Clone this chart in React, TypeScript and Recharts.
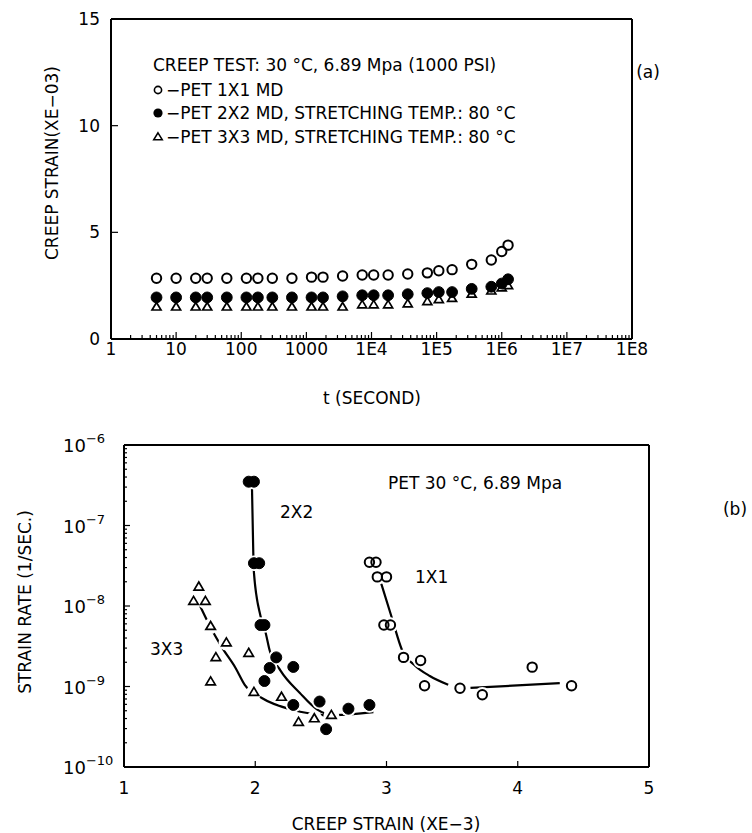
import React from 'react';
import { ScatterChart, Scatter, XAxis, YAxis, ReferenceLine } from 'recharts';

const FONT = '"DejaVu Sans", sans-serif';
const INK = '#000';
const FS = 17;

// ---------- Panel (a): creep strain vs. time ----------
const CREEP_TIME_S = [
  5, 10, 20, 30, 60, 120, 180, 300, 600, 1200, 1800, 3600, 7200, 10800, 18000,
  36000, 72000, 108000, 172800, 345600, 691200, 1000000, 1250000,
];
const CREEP_1X1 = [
  2.85, 2.85, 2.85, 2.85, 2.85, 2.85, 2.85, 2.85, 2.85, 2.9, 2.9, 2.95, 3.0, 3.0, 3.0,
  3.05, 3.1, 3.2, 3.25, 3.5, 3.7, 4.1, 4.4,
];
const CREEP_2X2 = [
  1.95, 1.95, 1.95, 1.95, 1.95, 1.95, 1.95, 1.95, 1.95, 1.95, 1.95, 2.0, 2.05, 2.05, 2.05,
  2.1, 2.15, 2.2, 2.2, 2.35, 2.45, 2.6, 2.8,
];
const CREEP_3X3 = [
  1.5, 1.5, 1.5, 1.5, 1.5, 1.5, 1.5, 1.5, 1.5, 1.5, 1.5, 1.5, 1.6, 1.6, 1.6,
  1.65, 1.75, 1.85, 1.9, 2.1, 2.25, 2.4, 2.5,
];

const TIME_TICKS = [1, 10, 100, 1000, 1e4, 1e5, 1e6, 1e7, 1e8];
const TIME_TICK_LABELS = ['1', '10', '100', '1000', '1E4', '1E5', '1E6', '1E7', '1E8'];
const CREEP_TICKS = [0, 5, 10, 15];

// ---------- Panel (b): strain rate vs. creep strain ----------
const RS_STRAIN_1X1 = [2.87, 2.92, 2.93, 3.0, 2.98, 3.03, 3.13, 3.26, 3.29, 3.56, 3.73, 4.11, 4.41];
const RS_RATE_1X1 = [3.5e-8, 3.5e-8, 2.3e-8, 2.3e-8, 5.8e-9, 5.8e-9, 2.3e-9, 2.1e-9, 1.02e-9, 9.5e-10, 7.9e-10, 1.74e-9, 1.02e-9];

const RS_STRAIN_2X2 = [1.95, 1.99, 1.99, 2.03, 2.04, 2.07, 2.16, 2.11, 2.29, 2.07, 2.29, 2.49, 2.71, 2.87, 2.54];
const RS_RATE_2X2 = [3.5e-7, 3.5e-7, 3.4e-8, 3.4e-8, 5.8e-9, 5.8e-9, 2.3e-9, 1.7e-9, 1.75e-9, 1.17e-9, 5.9e-10, 6.5e-10, 5.3e-10, 5.9e-10, 2.95e-10];

const RS_STRAIN_3X3 = [1.57, 1.53, 1.62, 1.66, 1.78, 1.7, 1.95, 1.66, 1.99, 2.2, 2.33, 2.45, 2.58];
const RS_RATE_3X3 = [1.73e-8, 1.15e-8, 1.15e-8, 5.6e-9, 3.5e-9, 2.3e-9, 2.6e-9, 1.15e-9, 8.5e-10, 7.4e-10, 3.6e-10, 4.0e-10, 4.4e-10];

// hand-drawn trend curves
const FIT_1X1_STRAIN = [2.96, 3.04, 3.12, 3.22, 3.33, 3.47];
const FIT_1X1_RATE = [1.9e-8, 7.2e-9, 2.8e-9, 1.8e-9, 1.35e-9, 1.05e-9];
const FIT_1X1_TAIL_STRAIN = [3.64, 4.32];
const FIT_1X1_TAIL_RATE = [9.6e-10, 1.1e-9];

const FIT_2X2_STRAIN = [1.975, 1.985, 1.99, 2.04, 2.08, 2.11, 2.19, 2.34, 2.47, 2.6, 2.9];
const FIT_2X2_RATE = [3.0e-7, 4.6e-8, 2.6e-8, 7.5e-9, 4.6e-9, 2.8e-9, 1.6e-9, 8.3e-10, 5.2e-10, 4.4e-10, 4.8e-10];

const FIT_3X3_STRAIN = [1.58, 1.66, 1.75, 1.85, 1.92, 2.05, 2.29, 2.57];
const FIT_3X3_RATE = [1.0e-8, 5.4e-9, 3.0e-9, 1.7e-9, 1.05e-9, 7.2e-10, 5.1e-10, 4.3e-10];

const STRAIN_B_TICKS = [1, 2, 3, 4, 5];
const RATE_TICKS = [1e-10, 1e-9, 1e-8, 1e-7, 1e-6];
const RATE_TICK_EXP = ['\u221210', '\u22129', '\u22128', '\u22127', '\u22126'];

// ---------- helpers ----------
const pts = (xs: number[], ys: number[]) => xs.map((x, i) => ({ x, y: ys[i] }));

const minorLogTicks = (majors: number[]) => {
  const out: number[] = [];
  for (let i = 0; i < majors.length - 1; i++) {
    for (let m = 2; m <= 9; m++) out.push(majors[i] * m);
  }
  return out;
};

const OpenCircle = (r: number) => (p: any) => (
  <circle cx={p.cx} cy={p.cy} r={r} fill="none" stroke={INK} strokeWidth={2} />
);
const FilledCircle = (r: number) => (p: any) => (
  <circle cx={p.cx} cy={p.cy} r={r} fill={INK} stroke={INK} strokeWidth={1} />
);
const OpenTriangle = (w: number, h: number) => (p: any) => (
  <path
    d={`M${p.cx},${p.cy - h * 0.6} L${p.cx + w / 2},${p.cy + h * 0.4} L${p.cx - w / 2},${p.cy + h * 0.4} Z`}
    fill="none"
    stroke={INK}
    strokeWidth={1.7}
    strokeLinejoin="miter"
  />
);
const Halo = (r: number) => (p: any) => <circle cx={p.cx} cy={p.cy} r={r} fill="#fff" />;
const NoDot = () => <g />;

const textStyle = { fontFamily: FONT, fontSize: FS, fill: INK } as const;

// ---------- tick renderers ----------
const TimeTick = (props: any) => {
  const { x, y, payload } = props;
  const idx = TIME_TICKS.indexOf(payload.value);
  const major = idx >= 0;
  return (
    <g>
      <line x1={x} y1={y} x2={x} y2={y - (major ? 7 : 4)} stroke={INK} strokeWidth={1.2} />
      {major && (
        <text x={x} y={y + 16} textAnchor="middle" {...textStyle}>
          {TIME_TICK_LABELS[idx]}
        </text>
      )}
    </g>
  );
};

const CreepTick = (props: any) => {
  const { x, y, payload } = props;
  return (
    <g>
      <line x1={x} y1={y} x2={x + 7} y2={y} stroke={INK} strokeWidth={1.2} />
      <text x={x - 11} y={y + 6} textAnchor="end" {...textStyle}>
        {String(payload.value)}
      </text>
    </g>
  );
};

const StrainBTick = (props: any) => {
  const { x, y, payload } = props;
  return (
    <g>
      <line x1={x} y1={y} x2={x} y2={y - 6} stroke={INK} strokeWidth={1.2} />
      <text x={x} y={y + 27} textAnchor="middle" {...textStyle}>
        {String(payload.value)}
      </text>
    </g>
  );
};

const RateTick = (props: any) => {
  const { x, y, payload } = props;
  const idx = RATE_TICKS.indexOf(payload.value);
  const major = idx >= 0;
  return (
    <g>
      <line x1={x} y1={y} x2={x + (major ? 6 : 3)} y2={y} stroke={INK} strokeWidth={1.2} />
      {major && (
        <text x={63} y={y + 7} textAnchor="start" fontFamily={FONT} fill={INK} fontSize={18}>
          10
          <tspan dy={-9} fontSize={13}>
            {RATE_TICK_EXP[idx]}
          </tspan>
        </text>
      )}
    </g>
  );
};

// ---------- panels ----------
const PanelA = () => (
  <ScatterChart width={752} height={420} margin={{ top: 19, right: 120, bottom: 0, left: 0 }}>
    <XAxis
      type="number"
      dataKey="x"
      scale="log"
      domain={[1, 1e8]}
      allowDataOverflow
      ticks={[...TIME_TICKS, ...minorLogTicks(TIME_TICKS)]}
      interval={0}
      tick={<TimeTick />}
      tickLine={false}
      tickSize={0}
      tickMargin={0}
      height={81}
      axisLine={{ stroke: INK, strokeWidth: 2 }}
    />
    <YAxis
      type="number"
      dataKey="y"
      domain={[0, 15]}
      ticks={CREEP_TICKS}
      interval={0}
      tick={<CreepTick />}
      tickLine={false}
      tickSize={0}
      tickMargin={0}
      width={111}
      axisLine={{ stroke: INK, strokeWidth: 2 }}
    />
    <ReferenceLine y={15} stroke={INK} strokeWidth={2} />
    <ReferenceLine x={1e8} stroke={INK} strokeWidth={2} />
    <Scatter data={pts(CREEP_TIME_S, CREEP_1X1)} shape={OpenCircle(4.7)} isAnimationActive={false} />
    <Scatter data={pts(CREEP_TIME_S, CREEP_3X3)} shape={OpenTriangle(9, 7.5)} isAnimationActive={false} />
    <Scatter data={pts(CREEP_TIME_S, CREEP_2X2)} shape={FilledCircle(5.4)} isAnimationActive={false} />
  </ScatterChart>
);

const allRatePoints = [
  ...pts(RS_STRAIN_1X1, RS_RATE_1X1),
  ...pts(RS_STRAIN_2X2, RS_RATE_2X2),
  ...pts(RS_STRAIN_3X3, RS_RATE_3X3),
];

const curveLine = { stroke: INK, strokeWidth: 2.2 };

const PanelB = () => (
  <ScatterChart width={752} height={413} margin={{ top: 25, right: 103, bottom: 0, left: 0 }}>
    <XAxis
      type="number"
      dataKey="x"
      domain={[1, 5]}
      ticks={STRAIN_B_TICKS}
      interval={0}
      tick={<StrainBTick />}
      tickLine={false}
      tickSize={0}
      tickMargin={0}
      height={66}
      axisLine={{ stroke: INK, strokeWidth: 2 }}
    />
    <YAxis
      type="number"
      dataKey="y"
      scale="log"
      domain={[1e-10, 1e-6]}
      allowDataOverflow
      ticks={[...RATE_TICKS, ...minorLogTicks(RATE_TICKS)]}
      interval={0}
      tick={<RateTick />}
      tickLine={false}
      tickSize={0}
      tickMargin={0}
      width={124}
      axisLine={{ stroke: INK, strokeWidth: 2 }}
    />
    <ReferenceLine y={1e-6} stroke={INK} strokeWidth={2} />
    <ReferenceLine x={5} stroke={INK} strokeWidth={2} />
    <Scatter data={pts(FIT_3X3_STRAIN, FIT_3X3_RATE)} line={curveLine} lineJointType="monotoneX" shape={NoDot} isAnimationActive={false} />
    <Scatter data={pts(FIT_2X2_STRAIN, FIT_2X2_RATE)} line={curveLine} lineJointType="monotoneX" shape={NoDot} isAnimationActive={false} />
    <Scatter data={pts(FIT_1X1_STRAIN, FIT_1X1_RATE)} line={curveLine} lineJointType="monotoneX" shape={NoDot} isAnimationActive={false} />
    <Scatter data={pts(FIT_1X1_TAIL_STRAIN, FIT_1X1_TAIL_RATE)} line={curveLine} lineJointType="linear" shape={NoDot} isAnimationActive={false} />
    <Scatter data={allRatePoints} shape={Halo(7.8)} isAnimationActive={false} />
    <Scatter data={pts(RS_STRAIN_3X3, RS_RATE_3X3)} shape={OpenTriangle(9.5, 8)} isAnimationActive={false} />
    <Scatter data={pts(RS_STRAIN_1X1, RS_RATE_1X1)} shape={OpenCircle(4.7)} isAnimationActive={false} />
    <Scatter data={pts(RS_STRAIN_2X2, RS_RATE_2X2)} shape={FilledCircle(5.5)} isAnimationActive={false} />
  </ScatterChart>
);

// ---------- figure text ----------
const LegendTriangle = ({ cx, cy }: { cx: number; cy: number }) => (
  <path d={`M${cx},${cy - 4.2} L${cx + 4.3},${cy + 2.8} L${cx - 4.3},${cy + 2.8} Z`} fill="none" stroke={INK} strokeWidth={1.5} />
);

const Annotations = () => (
  <svg
    width={752}
    height={833}
    style={{ position: 'absolute', left: 0, top: 0, pointerEvents: 'none' }}
  >
    {/* panel (a) */}
    <text x={153} y={71} {...textStyle}>CREEP TEST: 30 °C, 6.89 Mpa (1000 PSI)</text>
    <circle cx={158} cy={90} r={3.6} fill="none" stroke={INK} strokeWidth={1.6} />
    <text x={166} y={96} {...textStyle}>{'\u2212PET 1X1 MD'}</text>
    <circle cx={158} cy={113} r={4.6} fill={INK} />
    <text x={166} y={119} {...textStyle}>{'\u2212PET 2X2 MD, STRETCHING TEMP.: 80 °C'}</text>
    <LegendTriangle cx={158} cy={137} />
    <text x={166} y={143} {...textStyle}>{'\u2212PET 3X3 MD, STRETCHING TEMP.: 80 °C'}</text>
    <text x={648} y={78} textAnchor="middle" {...textStyle}>(a)</text>
    <text x={372} y={404} textAnchor="middle" {...textStyle}>t (SECOND)</text>
    <text
      x={52}
      y={163}
      textAnchor="middle"
      dominantBaseline="central"
      transform="rotate(-90, 52, 163)"
      {...textStyle}
    >
      {'CREEP STRAIN(XE\u221203)'}
    </text>

    {/* panel (b) */}
    <text x={388} y={489} {...textStyle}>PET 30 °C, 6.89 Mpa</text>
    <text x={280} y={518} {...textStyle}>2X2</text>
    <text x={415} y={583} {...textStyle}>1X1</text>
    <text x={150} y={655} {...textStyle}>3X3</text>
    <text x={735} y={515} textAnchor="middle" {...textStyle}>(b)</text>
    <text
      x={25}
      y={602}
      textAnchor="middle"
      dominantBaseline="central"
      transform="rotate(-90, 25, 602)"
      {...textStyle}
    >
      STRAIN RATE (1/SEC.)
    </text>
    <text x={386} y={830} textAnchor="middle" {...textStyle}>{'CREEP STRAIN (XE\u22123)'}</text>
  </svg>
);

export default function App() {
  return (
    <div
      style={{
        position: 'absolute',
        left: 0,
        top: 0,
        width: 752,
        height: 833,
        background: '#fff',
        overflow: 'hidden',
      }}
    >
      <div style={{ position: 'absolute', left: 0, top: 0 }}>
        <PanelA />
      </div>
      <div style={{ position: 'absolute', left: 0, top: 420 }}>
        <PanelB />
      </div>
      <Annotations />
    </div>
  );
}
